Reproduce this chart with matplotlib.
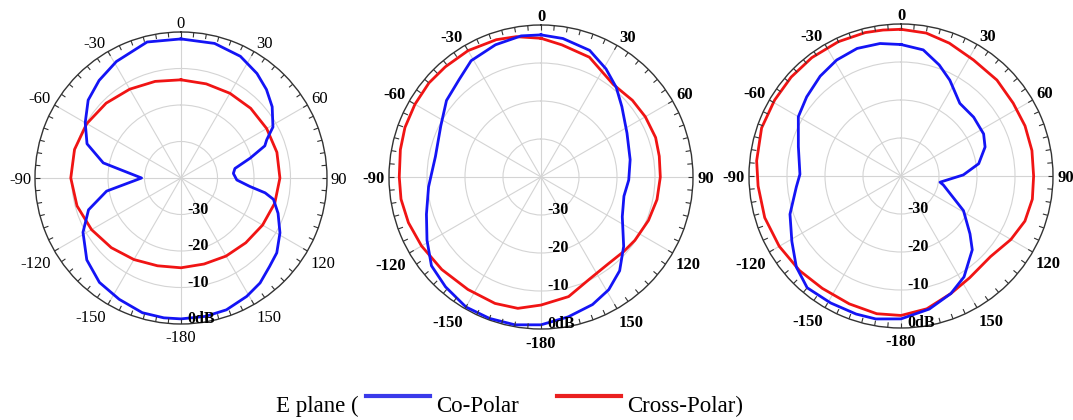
import numpy as np
import matplotlib
matplotlib.use('Agg')
import matplotlib.pyplot as plt
from matplotlib.lines import Line2D
import matplotlib.transforms as mtransforms

plt.rcParams['font.family'] = ['Liberation Serif', 'DejaVu Serif']

# ---------------- data (angle in degrees clockwise from top, value in dB) -------------
p1_co_ang = [0, 14, 26, 36, 44, 52, 61, 66, 69, 74, 80, 85, 92, 97, 100, 103, 110, 119, 128, 135,
             143, 151, 161, 170, 180, -173, -164, -153, -142, -131, -119, -109, -100, -90, -79,
             -70, -60, -50, -40, -29, -14]
p1_co_db = [-1.9, -2.0, -2.9, -4.6, -6.3, -8.3, -11.2, -14.3, -15.4, -20.3, -25.0, -25.6, -24.7,
            -21.0, -16.6, -14.0, -11.7, -9.0, -6.7, -5.7, -4.0, -2.9, -1.8, -1.5, -1.4, -1.4, -1.6,
            -2.7, -3.7, -5.8, -9.3, -13.2, -19.3, -29.2, -18.3, -12.6, -9.7, -6.8, -5.1, -3.5, -1.6]
p1_cx_ang = [0, 15, 30, 45, 60, 75, 90, 105, 120, 135, 150, 165, 180, -165, -150, -135, -120,
             -105, -90, -75, -60, -45, -30, -15]
p1_cx_db = [-13.1, -13.3, -13.2, -13.0, -12.9, -12.8, -12.9, -13.4, -14.2, -14.9, -15.3, -15.6,
            -15.4, -15.1, -14.2, -13.0, -11.7, -10.5, -9.8, -9.8, -10.2, -11.0, -11.9, -12.6]

p2_co_ang = [0, 9, 21, 31, 40, 49, 63, 79, 92, 103, 116, 130, 140, 149, 158, 169, 180, -170, -160,
             -150, -139, -129, -119, -108, -95, -79, -63, -51, -40, -31, -19, -8]
p2_co_db = [-2.6, -3.1, -4.3, -6.8, -9.2, -11.8, -14.6, -16.1, -16.9, -17.6, -16.2, -11.6, -7.8,
            -5.4, -3.8, -2.5, -1.1, -0.5, -0.4, -0.5, -1.7, -2.9, -5.7, -8.3, -10.3, -11.7, -10.4,
            -8.0, -6.5, -4.3, -3.2, -2.5]
p2_cx_ang = [0, 9, 22, 38, 50, 60, 71, 80, 90, 101, 112, 124, 132, 142, 155, 167, 180, -170, -160,
             -147, -133, -120, -109, -99, -90, -79, -70, -60, -50, -41, -30, -18, -10]
p2_cx_db = [-3.5, -4.8, -6.0, -9.1, -8.6, -8.3, -8.1, -8.4, -8.6, -8.9, -9.5, -10.2, -10.7, -11.1,
            -10.2, -7.7, -6.3, -4.9, -4.6, -4.7, -4.3, -3.7, -3.1, -2.7, -2.7, -2.3, -1.9, -1.7,
            -1.5, -1.6, -1.6, -2.0, -2.5]

p3_co_ang = [0, 10, 19, 27, 39, 51, 63, 71, 81, 89, 99, 102, 119, 130, 136, 148, 157, 168, 180,
             -170, -162, -151, -140, -131, -121, -109, -96, -89, -74, -60, -50, -39, -29, -19, -9]
p3_co_db = [-5.4, -6.3, -9.1, -11.7, -15.4, -15.4, -15.6, -16.6, -19.3, -23.6, -29.6, -28.6, -21.2,
            -16.3, -13.0, -8.7, -6.4, -4.2, -2.4, -1.8, -1.8, -1.8, -1.6, -3.5, -6.5, -9.1, -12.3,
            -13.4, -11.9, -8.8, -7.6, -6.2, -5.1, -4.5, -4.7]
p3_cx_ang = [0, 10, 20, 32, 45, 57, 68, 79, 90, 100, 110, 120, 132, 146, 157, 169, 180, -170, -158,
             -145, -133, -120, -107, -94, -84, -71, -59, -48, -37, -25, -14, -7]
p3_cx_db = [-1.4, -1.8, -2.8, -4.0, -4.3, -4.8, -4.8, -4.9, -5.1, -4.9, -5.3, -6.6, -8.3, -7.7, -6.4,
            -4.4, -3.3, -3.2, -3.7, -3.9, -3.5, -3.0, -2.5, -2.3, -1.8, -1.2, -1.2, -1.1, -1.0, -1.0,
            -1.1, -1.3]

angle_ticks = [0, 30, 60, 90, 120, 150, 180, 210, 240, 270, 300, 330]
angle_labels = ['0', '30', '60', '90', '120', '150', '-180', '-150', '-120', '-90', '-60', '-30']
ring_values = [-30, -20, -10, 0]
ring_labels = ['-30', '-20', '-10', '0dB']

CO_COLOR = '#1414f5'
CX_COLOR = '#f01414'

fig = plt.figure(figsize=(10.73, 4.2), dpi=100)
angle_texts = []


def closed(ang, db):
    a = np.mod(np.asarray(ang, float), 360)
    d = np.asarray(db, float)
    o = np.argsort(a)
    a, d = a[o], d[o]
    a = np.append(a, a[0] + 360)
    d = np.append(d, d[0])
    return np.deg2rad(a), d


def panel(rect, co_a, co_d, cx_a, cx_d, bold):
    ax = fig.add_axes(rect, projection='polar')
    ax.set_theta_zero_location('N')
    ax.set_theta_direction(-1)
    ax.set_ylim(-40, 0)
    ax.set_yticks([-30, -20, -10])
    ax.set_yticklabels([])
    ax.set_xticks(np.deg2rad(angle_ticks))
    ax.set_xticklabels([])
    ax.tick_params(axis='x', which='major', length=0, pad=0)
    ax.tick_params(axis='y', length=0)
    ax.grid(True, color='#d4d4d4', lw=0.8)
    ax.spines['polar'].set_color('#333333')
    ax.spines['polar'].set_linewidth(1.0)
    # small inward tick marks every 5 degrees on the outer circle
    tick_th = np.deg2rad(np.arange(0, 360, 5))
    ax.vlines(tick_th, -1.35, 0, colors='#333333', lw=0.8, zorder=5)
    t, r = closed(cx_a, cx_d)
    ax.plot(t, r, color=CX_COLOR, lw=2.0, zorder=3)
    t, r = closed(co_a, co_d)
    ax.plot(t, r, color=CO_COLOR, lw=2.0, zorder=4)
    off = mtransforms.offset_copy(ax.transData, fig=fig, x=6, y=0, units='dots')
    for v, s in zip(ring_values, ring_labels):
        ax.text(np.pi, v - 1.3, s, transform=off, ha='left', va='center',
                fontsize=11.5, fontweight='bold', color='black', zorder=6)
    for a, s in zip(angle_ticks, angle_labels):
        txt = ax.text(np.deg2rad(a), 0, s, ha='center', va='center', fontsize=12,
                      fontweight='bold' if bold else 'normal', clip_on=False)
        angle_texts.append((ax, a, txt))
    ax.set_ylim(-40, 0)
    return ax


panel([35 / 1073, 96 / 420, 292 / 1073, 292 / 420], p1_co_ang, p1_co_db, p1_cx_ang, p1_cx_db, False)
panel([389 / 1073, 91 / 420, 304 / 1073, 304 / 420], p2_co_ang, p2_co_db, p2_cx_ang, p2_cx_db, True)
panel([749 / 1073, 92 / 420, 304 / 1073, 304 / 420], p3_co_ang, p3_co_db, p3_cx_ang, p3_cx_db, True)

# place each angle label so that its nearest box corner/edge sits just outside the circle
fig.canvas.draw()
renderer = fig.canvas.get_renderer()
GAP = 4.0
for ax, a, txt in angle_texts:
    bb = txt.get_window_extent(renderer)
    w, h = bb.width, bb.height * 0.75
    th = np.deg2rad(a)
    s, c = np.sin(th), np.cos(th)
    sx = 0.0 if abs(s) < 1e-6 else np.sign(s)
    sy = 0.0 if abs(c) < 1e-6 else np.sign(c)
    dx = s * GAP + sx * w / 2
    dy = c * GAP + sy * h / 2 - 2.0 - (2.5 if c < -1e-6 else 0.0)
    txt.set_transform(mtransforms.offset_copy(ax.transData, fig=fig, x=dx, y=dy,
                                              units='dots'))

# legend-like caption
yb = 8 / 420
fig.text(276 / 1073, yb, 'E plane (', fontsize=16.5, va='baseline', ha='left')
fig.add_artist(Line2D([366 / 1073, 430 / 1073], [24 / 420, 24 / 420], color='#3a3aea', lw=3))
fig.text(436 / 1073, yb, 'Co-Polar', fontsize=16.5, va='baseline', ha='left')
fig.add_artist(Line2D([557 / 1073, 621 / 1073], [24 / 420, 24 / 420], color='#ea2020', lw=3))
fig.text(627 / 1073, yb, 'Cross-Polar)', fontsize=16.5, va='baseline', ha='left')

fig.savefig('out.png', dpi=100, facecolor='white')
